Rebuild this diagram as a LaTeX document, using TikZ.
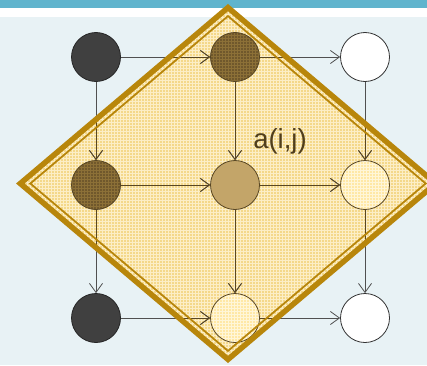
\documentclass[tikz,border=0pt]{standalone}
\usepackage{fontspec}
\setmainfont{Liberation Sans}
\usetikzlibrary{arrows.meta,patterns}
\definecolor{barblue}{RGB}{96,180,205}
\definecolor{bgblue}{RGB}{232,242,245}
\definecolor{gold}{RGB}{184,134,11}
\definecolor{creamfill}{RGB}{244,216,138}
\definecolor{creamgrid}{RGB}{252,238,198}
\definecolor{darknode}{RGB}{64,64,64}
\definecolor{brownnode}{RGB}{112,88,44}
\definecolor{browngrid}{RGB}{140,112,55}
\definecolor{tannode}{RGB}{195,165,105}
\definecolor{palenode}{RGB}{255,232,166}
\definecolor{palegrid}{RGB}{255,246,216}
\definecolor{edgegray}{RGB}{80,80,80}
\definecolor{edgebrown}{RGB}{88,70,35}
\definecolor{labelbrown}{RGB}{80,62,28}
\pgfdeclarelayer{back}
\pgfdeclarelayer{mid}
\pgfsetlayers{back,mid,main}
\begin{document}
\begin{tikzpicture}[x=1pt,y=1pt,
  gn/.style={circle, minimum size=49pt, inner sep=0pt, line width=0.8pt},
  darkgn/.style={gn, fill=darknode, draw=black!85},
  whitegn/.style={gn, fill=white, draw=black!80},
  browngn/.style={gn, preaction={fill=brownnode}, pattern=grid, pattern color=browngrid, draw=edgebrown},
  tangn/.style={gn, fill=tannode, draw=edgebrown},
  palegn/.style={gn, preaction={fill=palenode}, pattern=grid, pattern color=palegrid, draw=edgebrown},
  conn/.style={line width=0.8pt, -{Straight Barb[length=9pt,width=13pt]}},
  lbl/.style={text=labelbrown, font=\fontsize{27.5}{28}\selectfont, inner sep=0pt}]
\useasboundingbox (0,0) rectangle (427,365);
% diamond vertices
\coordinate (DT) at (228,357.4);
\coordinate (DR) at (435.7,181.5);
\coordinate (DB) at (228,5.6);
\coordinate (DL) at (20.3,181.5);
\coordinate (IT) at (228,348.9);
\coordinate (IR) at (425.7,181.5);
\coordinate (IB) at (228,14.1);
\coordinate (IL) at (30.3,181.5);
% nodes
\node[darkgn]  (n11) at (96,308) {};
\node[browngn] (n12) at (235,308) {};
\node[whitegn] (n13) at (365,308) {};
\node[browngn] (n21) at (96,180) {};
\node[tangn]   (n22) at (235,180) {};
\node[palegn]  (n23) at (365,180) {};
\node[darkgn]  (n31) at (96,47) {};
\node[palegn]  (n32) at (235,47) {};
\node[whitegn] (n33) at (365,47) {};
\node[lbl] (lab) at (280,224) {a(i,j)};
% background
\begin{pgfonlayer}{back}
  \fill[bgblue] (0,0) rectangle (427,348);
  \fill[white] (0,348) rectangle (427,357);
  \fill[barblue] (0,357) rectangle (427,365);
  \fill[creamfill] (DT) -- (DR) -- (DB) -- (DL) -- cycle;
  \fill[pattern=grid, pattern color=creamgrid] (DT) -- (DR) -- (DB) -- (DL) -- cycle;
\end{pgfonlayer}
% connectors
\begin{pgfonlayer}{mid}
  \foreach \a/\b in {n11/n12,n12/n13,n21/n22,n22/n23,n31/n32,n32/n33,
                     n11/n21,n21/n31,n12/n22,n22/n32,n13/n23,n23/n33}{
    \draw[conn, draw=edgegray] (\a) -- (\b);
  }
  \begin{scope}
    \clip (DT) -- (DR) -- (DB) -- (DL) -- cycle;
    \foreach \a/\b in {n11/n12,n12/n13,n21/n22,n22/n23,n31/n32,n32/n33,
                       n11/n21,n21/n31,n12/n22,n22/n32,n13/n23,n23/n33}{
      \draw[conn, draw=edgebrown] (\a) -- (\b);
    }
  \end{scope}
\end{pgfonlayer}
% diamond border
\draw[gold, line width=5.5pt] (DT) -- (DR) -- (DB) -- (DL) -- cycle;
\draw[gold, line width=1.8pt] (IT) -- (IR) -- (IB) -- (IL) -- cycle;
\end{tikzpicture}
\end{document}
